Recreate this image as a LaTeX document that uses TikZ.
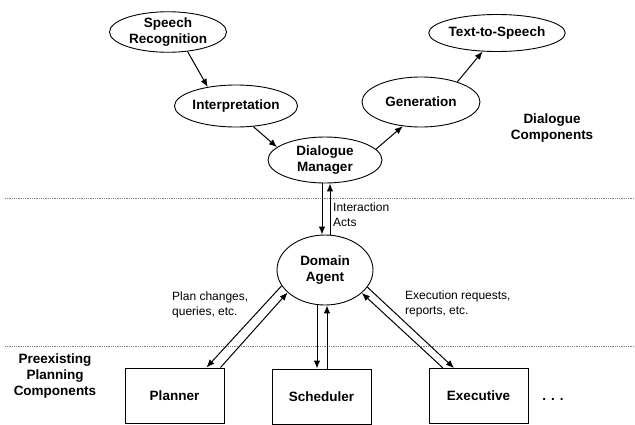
\documentclass[tikz,border=0pt]{standalone}
\usepackage{fontspec}
\setmainfont{Liberation Sans}
\usepackage{tikz}
\usetikzlibrary{shapes.geometric,arrows.meta}
\tikzstyle{component} = [ellipse, draw, line width=0.9pt, text centered, align=center, inner sep=0pt, font=\fontsize{13.5}{16}\selectfont\bfseries]
\tikzstyle{planning} = [rectangle, draw, line width=1pt, text centered, minimum width=99pt, minimum height=55pt, font=\fontsize{13.5}{16}\selectfont\bfseries]
\tikzstyle{heading} = [align=center, font=\fontsize{13.5}{16}\selectfont\bfseries]
\tikzstyle{remark} = [align=left, anchor=west, inner sep=0pt, font=\fontsize{12}{15}\selectfont]
\tikzstyle{divider} = [densely dotted, gray, line width=0.8pt]
\tikzstyle{connector} = [line width=1pt, -{Latex[length=8pt,width=6.5pt]}]

\begin{document}
\begin{tikzpicture}[x=1pt, y=-1pt]
        \useasboundingbox (0,0) rectangle (635,424);
        % dialogue side
        \node (sr) [component, minimum width=117pt, minimum height=40pt] at (168,32) {Speech\\Recognition};
        \node (interp) [component, minimum width=118pt, minimum height=42pt] at (236,106) {Interpretation};
        \node (dm) [component, minimum width=114pt, minimum height=46pt] at (325,160) {Dialogue\\Manager};
        \node (gen) [component, minimum width=118pt, minimum height=50pt] at (421,102) {Generation};
        \node (tts) [component, minimum width=119pt, minimum height=37pt] at (497,33) {Text-to-Speech};
        \node (dialogue) [heading] at (552,128) {Dialogue\\Components};
        % separators
        \draw [divider] (5,198) -- (635,198);
        \draw [divider] (5,346) -- (635,346);
        % agent and planning side
        \node (da) [component, minimum width=96pt, minimum height=70pt] at (325,270) {Domain\\Agent};
        \node (acts) [remark] at (333,215) {Interaction\\Acts};
        \node (plan-notes) [remark] at (172,305) {Plan changes,\\queries, etc.};
        \node (exec-notes) [remark] at (405,304) {Execution requests,\\reports, etc.};
        \node (preexisting) [heading] at (55,376) {Preexisting\\Planning\\Components};
        \node (planner) [planning] at (174.5,395.5) {Planner};
        \node (sched) [planning] at (321.5,396.5) {Scheduler};
        \node (exec) [planning] at (478.5,396) {Executive};
        \node (more) [font=\fontsize{13.5}{16}\selectfont\bfseries] at (553,399) {.\hspace{5pt}.\hspace{5pt}.};
        \draw [connector] (sr.315) -- (interp.146);
        \draw [connector] (interp.310) -- (dm.165);
        \draw [connector] (dm.12) -- (gen.233);
        \draw [connector] (gen.29) -- (tts.232);
        \draw [connector] ([xshift=-3pt]dm.south) -- ([xshift=-3pt]da.north);
        \draw [connector] ([xshift=5pt]da.north) -- ([xshift=5pt]dm.south);
        \draw [connector] (da.200) -- ([xshift=32pt]planner.north);
        \draw [connector] ([xshift=46pt]planner.north) -- (da.211);
        \draw [connector] ([xshift=-4.5pt]sched.north |- da.south) -- ([xshift=-4.5pt]sched.north);
        \draw [connector] ([xshift=5.5pt]sched.north) -- ([xshift=5.5pt]sched.north |- da.south);
        \draw [connector] (da.338) -- ([xshift=-24.5pt]exec.north);
        \draw [connector] ([xshift=-35.5pt]exec.north) -- (da.328);
    \end{tikzpicture}
\end{document}
